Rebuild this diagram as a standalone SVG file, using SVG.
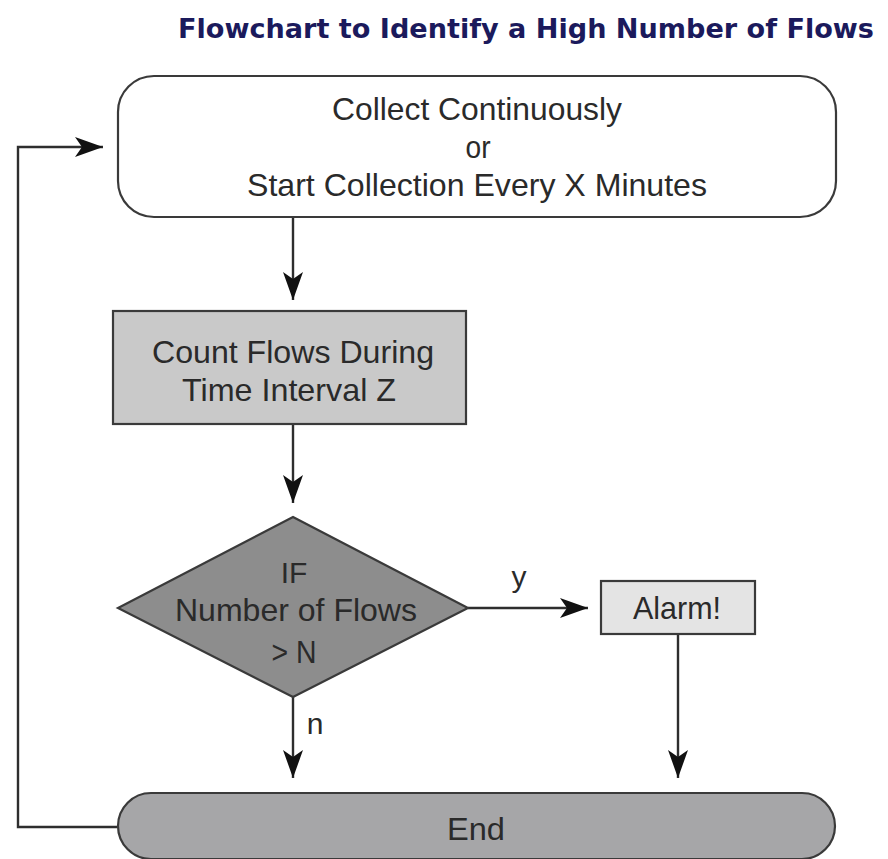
<svg xmlns="http://www.w3.org/2000/svg" width="888" height="859" viewBox="0 0 888 859">
<defs>
<style>
.lbl{font-family:"Liberation Sans",Arial,sans-serif;fill:#2a2a2a;text-anchor:middle;font-size:32px}
.box{stroke:#3a3a3a;stroke-width:2.2}
.conn{fill:none;stroke:#2e2e2e;stroke-width:2.4}
</style>
<marker id="ah" markerUnits="userSpaceOnUse" markerWidth="30" markerHeight="22" refX="28" refY="11" orient="auto">
<path d="M0,1 L28,11 L0,21 L7,11 Z" fill="#111"/>
</marker>
</defs>
<rect width="888" height="859" fill="#ffffff"/>
<text x="526" y="38" font-family="'DejaVu Sans',Verdana,sans-serif" font-weight="bold" font-size="27" fill="#1b1a5c" text-anchor="middle" textLength="696" lengthAdjust="spacingAndGlyphs">Flowchart to Identify a High Number of Flows</text>

<g id="connectors">
<path class="conn" d="M117,827 H18 V147 H103" marker-end="url(#ah)"/>
<path class="conn" d="M293,216 V300" marker-end="url(#ah)"/>
<path class="conn" d="M293,424 V503" marker-end="url(#ah)"/>
<path class="conn" d="M468,608 H588" marker-end="url(#ah)"/>
<path class="conn" d="M293,696 V778" marker-end="url(#ah)"/>
<path class="conn" d="M678,634 V778" marker-end="url(#ah)"/>
<text class="lbl" x="519" y="587" style="font-size:30px">y</text>
<text class="lbl" x="315" y="734" style="font-size:30px">n</text>
</g>

<g id="start">
<rect class="box" x="118" y="76" width="718" height="141" rx="36" ry="36" fill="#ffffff"/>
<text class="lbl" x="477" y="120" textLength="290" lengthAdjust="spacingAndGlyphs">Collect Continuously</text>
<text class="lbl" x="478" y="158" textLength="25" lengthAdjust="spacingAndGlyphs">or</text>
<text class="lbl" x="477" y="196" textLength="460" lengthAdjust="spacingAndGlyphs">Start Collection Every X Minutes</text>
</g>

<g id="count">
<rect class="box" x="113" y="311" width="353" height="113" fill="#c9c9c9"/>
<text class="lbl" x="293" y="363" textLength="282" lengthAdjust="spacingAndGlyphs">Count Flows During</text>
<text class="lbl" x="289" y="401" textLength="214" lengthAdjust="spacingAndGlyphs">Time Interval Z</text>
</g>

<g id="decision">
<polygon class="box" points="293,517 468,608 293,697 118,608" fill="#8d8d8d"/>
<text class="lbl" x="294" y="583" style="font-size:30px">IF</text>
<text class="lbl" x="296" y="621" textLength="242" lengthAdjust="spacingAndGlyphs">Number of Flows</text>
<text class="lbl" x="294" y="663" textLength="45" lengthAdjust="spacingAndGlyphs">&gt; N</text>
</g>

<g id="alarm">
<rect class="box" x="601" y="581" width="154" height="53" fill="#e4e4e4"/>
<text class="lbl" x="677" y="619" textLength="88" lengthAdjust="spacingAndGlyphs">Alarm!</text>
</g>

<g id="end">
<rect class="box" x="118" y="793" width="717" height="66" rx="33" ry="33" fill="#a6a6a8"/>
<text class="lbl" x="476" y="840" textLength="58" lengthAdjust="spacingAndGlyphs">End</text>
</g>
</svg>
